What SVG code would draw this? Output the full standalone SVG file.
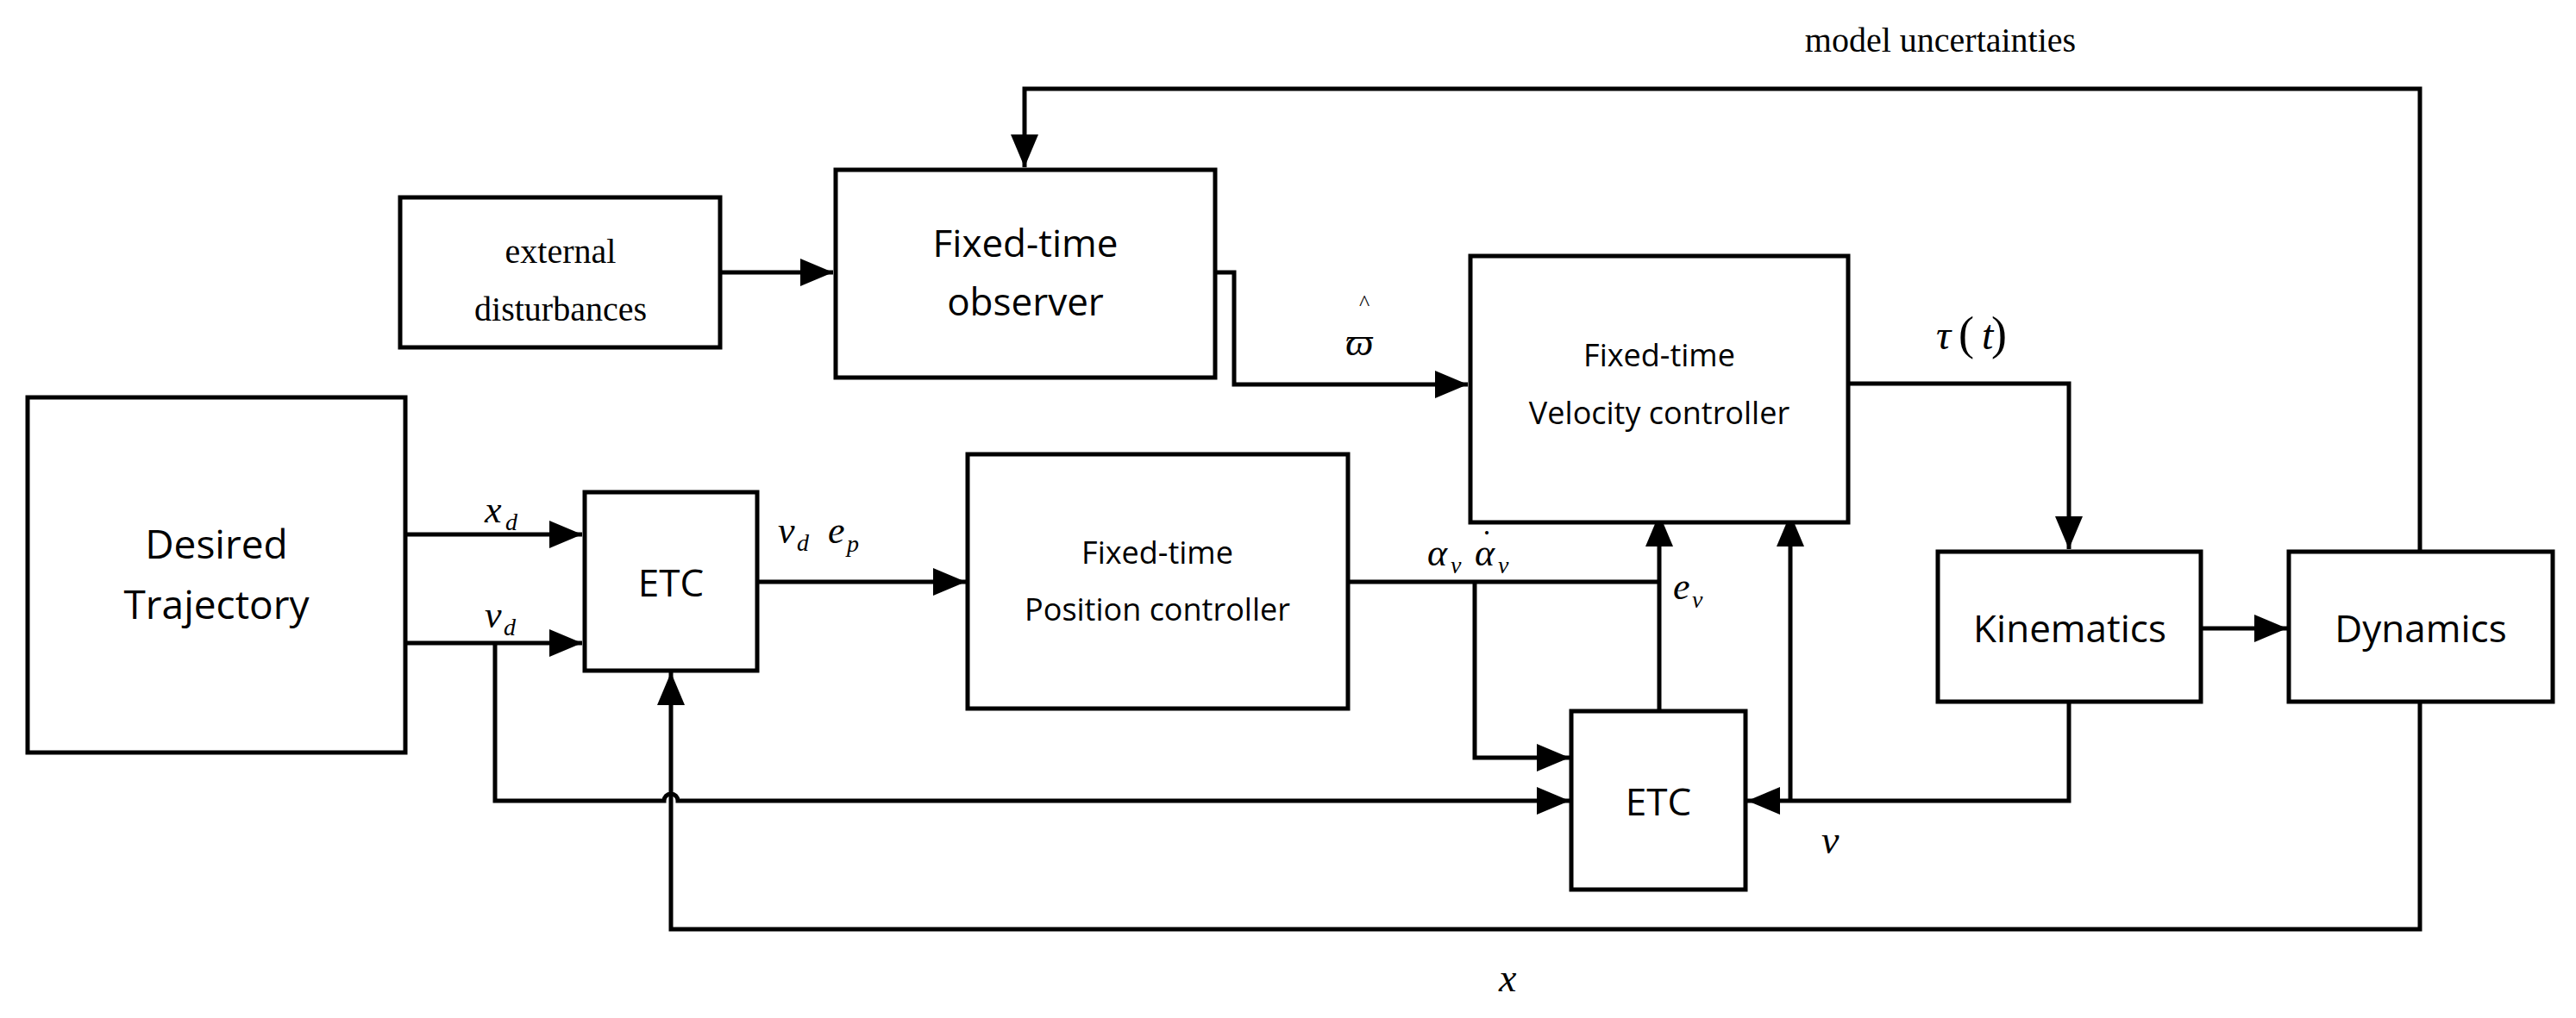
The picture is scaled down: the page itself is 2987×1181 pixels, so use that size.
<svg xmlns="http://www.w3.org/2000/svg" width="2987" height="1181" viewBox="0 0 2987 1181">
<style>
.box{fill:#fff;stroke:#000;stroke-width:5}
.ln{fill:none;stroke:#000;stroke-width:5}
.sans{font-family:"Open Sans","Liberation Sans",sans-serif;text-anchor:middle;fill:#000}
.serif{font-family:"Liberation Serif",serif;text-anchor:middle;fill:#000}
.m{font-family:"Liberation Serif",serif;font-style:italic;fill:#000}
</style>
<defs>
<marker id="a" markerUnits="userSpaceOnUse" markerWidth="40" markerHeight="34" refX="38" refY="16" orient="auto"><path d="M0,0 L38,16 L0,32 z" fill="#000"/></marker>
</defs>
<rect width="2987" height="1181" fill="#fff"/>
<g id="connectors">
<path class="ln" d="M2806,638 V103 H1188 V194" marker-end="url(#a)"/>
<path class="ln" d="M835,316 H966" marker-end="url(#a)"/>
<path class="ln" d="M1409,316 H1431 V446 H1702" marker-end="url(#a)"/>
<path class="ln" d="M2143,445 H2399 V637" marker-end="url(#a)"/>
<path class="ln" d="M2552,729 H2652" marker-end="url(#a)"/>
<path class="ln" d="M471,620 H675" marker-end="url(#a)"/>
<path class="ln" d="M471,746 H675" marker-end="url(#a)"/>
<path class="ln" d="M878,675 H1120" marker-end="url(#a)"/>
<path class="ln" d="M1563,675 H1924"/>
<path class="ln" d="M1924,825 V596" marker-end="url(#a)"/>
<path class="ln" d="M1710,675 V879 H1820" marker-end="url(#a)"/>
<path class="ln" d="M574,746 V929 H770 A8,8 0 0 1 786,929 H1820" marker-end="url(#a)"/>
<path class="ln" d="M2399,814 V929 H2026" marker-end="url(#a)"/>
<path class="ln" d="M2076,929 V596" marker-end="url(#a)"/>
<path class="ln" d="M2806,814 V1078 H778 V780" marker-end="url(#a)"/>
</g>
<g id="desired"><rect class="box" x="32" y="461" width="438" height="412"/><text class="sans" font-size="46" x="251" y="648">Desired</text><text class="sans" font-size="46" x="251" y="718">Trajectory</text></g>
<g id="ext"><rect class="box" x="464" y="229" width="371" height="174"/><text class="serif" font-size="40" x="650" y="305">external</text><text class="serif" font-size="40" x="650" y="372">disturbances</text></g>
<g id="observer"><rect class="box" x="969" y="197" width="440" height="241"/><text class="sans" font-size="44" x="1189" y="298">Fixed-time</text><text class="sans" font-size="44" x="1189" y="366">observer</text></g>
<g id="velctrl"><rect class="box" x="1705" y="297" width="438" height="309"/><text class="sans" font-size="36" x="1924" y="425">Fixed-time</text><text class="sans" font-size="36" x="1924" y="492">Velocity controller</text></g>
<g id="etc1"><rect class="box" x="678" y="571" width="200" height="207"/><text class="sans" font-size="44" x="778" y="692">ETC</text></g>
<g id="posctrl"><rect class="box" x="1122" y="527" width="441" height="295"/><text class="sans" font-size="36" x="1342" y="654">Fixed-time</text><text class="sans" font-size="36" x="1342" y="720">Position controller</text></g>
<g id="etc2"><rect class="box" x="1822" y="825" width="202" height="207"/><text class="sans" font-size="44" x="1923" y="946">ETC</text></g>
<g id="kin"><rect class="box" x="2247" y="640" width="305" height="174"/><text class="sans" font-size="44" x="2400" y="745">Kinematics</text></g>
<g id="dyn"><rect class="box" x="2654" y="640" width="306" height="174"/><text class="sans" font-size="44" x="2807" y="745">Dynamics</text></g>
<g id="labels">
<text class="serif" font-size="40" x="2250" y="60">model uncertainties</text>
<text class="m" font-size="46" x="1560" y="412">ϖ</text><text class="serif" font-size="26" x="1582" y="360">^</text>
<text class="m" font-size="48" x="2245" y="405">τ</text><text class="serif" font-size="54" x="2280" y="405">(</text><text class="m" font-size="48" x="2298" y="405">t</text><text class="serif" font-size="54" x="2318" y="405">)</text>
<text class="m" font-size="44" x="562" y="606">x</text><text class="m" font-size="28" x="586" y="615">d</text>
<text class="m" font-size="44" x="562" y="728">v</text><text class="m" font-size="28" x="584" y="737">d</text>
<text class="m" font-size="44" x="902" y="630">v</text><text class="m" font-size="28" x="924" y="639">d</text>
<text class="m" font-size="44" x="960" y="630">e</text><text class="m" font-size="28" x="982" y="640">p</text>
<text class="m" font-size="44" x="1655" y="656">α</text><text class="m" font-size="28" x="1682" y="665">v</text>
<text class="m" font-size="44" x="1710" y="656">α</text><text class="serif" font-size="34" x="1724" y="620">.</text><text class="m" font-size="28" x="1737" y="665">v</text>
<text class="m" font-size="44" x="1940" y="695">e</text><text class="m" font-size="28" x="1962" y="705">v</text>
<text class="m" font-size="46" x="2112" y="990">v</text>
<text class="m" font-size="46" x="1738" y="1150">x</text>
</g>
</svg>
